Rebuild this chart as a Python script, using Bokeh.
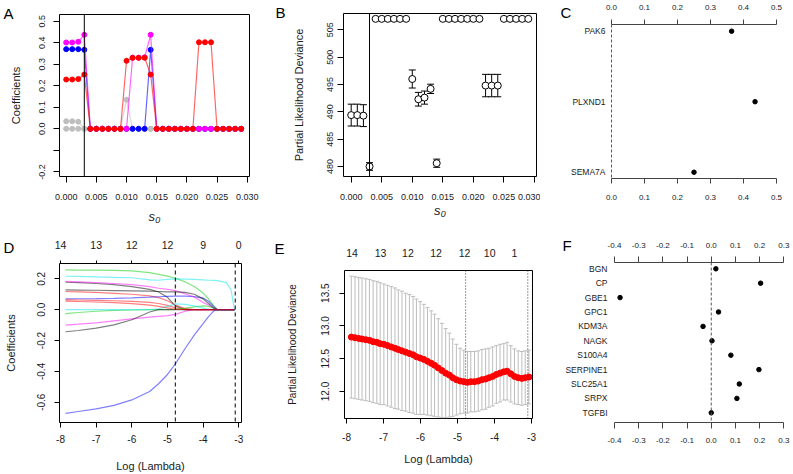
from bokeh.plotting import figure
from bokeh.models import Range1d, LinearAxis, FixedTicker, NumeralTickFormatter, Span, Label
from bokeh.layouts import row, column
from bokeh.embed import file_html
from bokeh.resources import INLINE

# ---------------- data ----------------
# Panel A / B : s0 grid
s0 = [0.000, 0.001, 0.002, 0.003, 0.004, 0.005, 0.006, 0.007, 0.008, 0.009,
      0.010, 0.011, 0.012, 0.013, 0.014, 0.015, 0.016, 0.017, 0.018, 0.019,
      0.020, 0.021, 0.022, 0.023, 0.024, 0.025, 0.026, 0.027, 0.028, 0.029]
s0_selected = 0.003
s0_ticks = [0.000, 0.005, 0.010, 0.015, 0.020, 0.025, 0.030]

coef_gray1 = [0.035, 0.035, 0.033, 0.0, 0.0, 0.0, 0.0, 0.0, 0.0, 0.0,
              0.135, 0.0, 0.0, 0.0, 0.0, 0.0, 0.0, 0.0, 0.0, 0.0,
              0.0, 0.0, 0.0, 0.0, 0.0, 0.0, 0.0, 0.0, 0.0, 0.0]
coef_gray2 = [0.0, 0.0, 0.0, 0.0, 0.0, 0.0, 0.0, 0.0, 0.0, 0.0,
              0.0, 0.0, 0.0, 0.0, 0.0, 0.0, 0.0, 0.0, 0.0, 0.0,
              0.0, 0.0, 0.0, 0.0, 0.0, 0.0, 0.0, 0.0, 0.0, 0.0]
coef_blue = [0.370, 0.370, 0.370, 0.367, 0.0, 0.0, 0.0, 0.0, 0.0, 0.0,
             0.0, 0.0, 0.0, 0.0, 0.367, 0.0, 0.0, 0.0, 0.0, 0.0,
             0.0, 0.0, 0.0, 0.0, 0.0, 0.0, 0.0, 0.0, 0.0, 0.0]
coef_magenta = [0.401, 0.401, 0.404, 0.437, 0.0, 0.0, 0.0, 0.0, 0.0, 0.0,
                0.0, 0.330, 0.330, 0.332, 0.437, 0.0, 0.0, 0.0, 0.0, 0.0,
                0.0, 0.0, 0.0, 0.0, 0.0, 0.0, 0.0, 0.0, 0.0, 0.0]
coef_red = [0.229, 0.229, 0.231, 0.252, 0.0, 0.0, 0.0, 0.0, 0.0, 0.0,
            0.316, 0.330, 0.330, 0.330, 0.252, 0.0, 0.0, 0.0, 0.0, 0.0,
            0.0, 0.0, 0.402, 0.402, 0.402, 0.0, 0.0, 0.0, 0.0, 0.0]
coef_y_ticks = [-0.2, -0.1, 0.0, 0.1, 0.2, 0.3, 0.4, 0.5]

pld_mean = [489.4, 489.4, 489.3, 480.0, 507.0, 507.0, 507.0, 507.0, 507.0, 507.0,
            496.0, 492.3, 492.6, 494.2, 480.6, 507.0, 507.0, 507.0, 507.0, 507.0,
            507.0, 507.0, 494.8, 494.8, 494.8, 507.0, 507.0, 507.0, 507.0, 507.0]
pld_se = [2.0, 2.0, 2.0, 0.7, 0.0, 0.0, 0.0, 0.0, 0.0, 0.0,
          1.65, 1.25, 1.2, 0.85, 0.75, 0.0, 0.0, 0.0, 0.0, 0.0,
          0.0, 0.0, 2.05, 2.05, 2.05, 0.0, 0.0, 0.0, 0.0, 0.0]
pld_y_ticks = [480, 485, 490, 495, 500, 505]

# Panel C
genes_c = ["PAK6", "PLXND1", "SEMA7A"]
coef_c = [0.364, 0.435, 0.250]
ticks_c = [0.0, 0.1, 0.2, 0.3, 0.4, 0.5]

# Panel D : coefficient paths
loglam_path = [-7.86, -7.5, -7.0, -6.5, -6.0, -5.5, -5.25, -5.0, -4.78, -4.5,
               -4.25, -4.0, -3.85, -3.7, -3.6, -3.5, -3.35, -3.22, -3.12]
path_black1 = [0.178, 0.176, 0.170, 0.162, 0.150, 0.132, 0.115, 0.080, 0.025, 0.0,
               0.0, 0.0, 0.0, 0.0, 0.0, 0.0, 0.0, 0.0, 0.0]
path_red1 = [0.118, 0.116, 0.112, 0.106, 0.100, 0.090, 0.078, 0.058, 0.030, 0.008,
             0.0, 0.0, 0.0, 0.0, 0.0, 0.0, 0.0, 0.0, 0.0]
path_green1 = [0.258, 0.257, 0.256, 0.255, 0.252, 0.240, 0.229, 0.218, 0.204, 0.180,
               0.150, 0.108, 0.070, 0.025, 0.0, 0.0, 0.0, 0.0, 0.0]
path_blue1 = [0.070, 0.071, 0.072, 0.074, 0.077, 0.081, 0.084, 0.086, 0.088, 0.088,
              0.085, 0.075, 0.055, 0.020, 0.0, 0.0, 0.0, 0.0, 0.0]
path_cyan1 = [0.217, 0.216, 0.213, 0.210, 0.207, 0.193, 0.191, 0.197, 0.200, 0.198,
              0.196, 0.193, 0.191, 0.190, 0.188, 0.184, 0.176, 0.130, 0.0]
path_magenta1 = [0.183, 0.181, 0.176, 0.170, 0.163, 0.150, 0.139, 0.132, 0.124, 0.103,
                 0.082, 0.046, 0.030, 0.010, 0.0, 0.0, 0.0, 0.0, 0.0]
path_black2 = [0.128, 0.127, 0.126, 0.124, 0.122, 0.120, 0.118, 0.116, 0.115, 0.112,
               0.100, 0.070, 0.040, 0.010, 0.0, 0.0, 0.0, 0.0, 0.0]
path_red2 = [0.064, 0.063, 0.061, 0.058, 0.054, 0.047, 0.040, 0.028, 0.012, 0.0,
             0.0, 0.0, 0.0, 0.0, 0.0, 0.0, 0.0, 0.0, 0.0]
path_green2 = [-0.025, -0.018, -0.010, -0.005, -0.002, 0.0, 0.0, 0.0, 0.002, 0.010,
               0.018, 0.025, 0.022, 0.008, 0.0, 0.0, 0.0, 0.0, 0.0]
path_blue2 = [-0.672, -0.660, -0.643, -0.620, -0.585, -0.530, -0.480, -0.420, -0.352, -0.250,
              -0.165, -0.090, -0.045, -0.008, 0.0, 0.0, 0.0, 0.0, 0.0]
path_cyan2 = [0.0, 0.0, 0.0, 0.0, 0.0, 0.001, 0.006, 0.022, 0.038, 0.035,
              0.025, 0.010, 0.003, 0.0, 0.0, 0.0, 0.0, 0.0, 0.0]
path_magenta2 = [-0.100, -0.094, -0.085, -0.072, -0.060, -0.048, -0.043, -0.038, -0.030, -0.010,
                 0.0, 0.0, 0.0, 0.0, 0.0, 0.0, 0.0, 0.0, 0.0]
path_black3 = [-0.143, -0.135, -0.120, -0.098, -0.065, -0.015, 0.0, 0.0, 0.0, 0.0,
               0.0, 0.0, 0.0, 0.0, 0.0, 0.0, 0.0, 0.0, 0.0]
path_red3 = [0.055, 0.053, 0.050, 0.046, 0.040, 0.030, 0.022, 0.012, 0.003, 0.0,
             0.0, 0.0, 0.0, 0.0, 0.0, 0.0, 0.0, 0.0, 0.0]
path_ticks = [-8, -7, -6, -5, -4, -3]
path_top_labels = ["14", "13", "12", "12", "9", "0"]
path_y_ticks = [-0.6, -0.4, -0.2, 0.0, 0.2]

# Panel E : cross-validation curve
loglam_cv = [-7.87, -7.77, -7.67, -7.58, -7.48, -7.38, -7.28, -7.18, -7.09, -6.99,
             -6.89, -6.79, -6.69, -6.60, -6.50, -6.40, -6.30, -6.20, -6.11, -6.01,
             -5.91, -5.81, -5.71, -5.62, -5.52, -5.42, -5.32, -5.22, -5.13, -5.03,
             -4.93, -4.83, -4.73, -4.64, -4.54, -4.44, -4.34, -4.24, -4.15, -4.05,
             -3.95, -3.85, -3.75, -3.66, -3.56, -3.46, -3.36, -3.26, -3.17, -3.07]
cv_mean = [12.83, 12.82, 12.81, 12.80, 12.79, 12.78, 12.76, 12.75, 12.73, 12.72,
           12.70, 12.68, 12.66, 12.64, 12.62, 12.60, 12.58, 12.56, 12.53, 12.51,
           12.49, 12.46, 12.43, 12.40, 12.36, 12.32, 12.28, 12.25, 12.21, 12.18,
           12.16, 12.15, 12.14, 12.15, 12.15, 12.16, 12.18, 12.19, 12.21, 12.23,
           12.26, 12.28, 12.30, 12.31, 12.27, 12.23, 12.21, 12.20, 12.21, 12.22]
cv_se = [0.93, 0.93, 0.93, 0.93, 0.93, 0.93, 0.93, 0.93, 0.93, 0.92,
         0.92, 0.92, 0.92, 0.91, 0.91, 0.90, 0.90, 0.89, 0.88, 0.86,
         0.84, 0.82, 0.80, 0.78, 0.75, 0.72, 0.68, 0.64, 0.59, 0.54,
         0.50, 0.48, 0.47, 0.46, 0.46, 0.46, 0.46, 0.46, 0.45, 0.45,
         0.44, 0.44, 0.43, 0.44, 0.43, 0.42, 0.41, 0.41, 0.41, 0.41]
cv_top_pos = [-7.85, -7.08, -6.34, -5.58, -4.81, -4.13, -3.46]
cv_top_labels = ["14", "13", "12", "12", "12", "10", "1"]
cv_y_ticks = [12.0, 12.5, 13.0, 13.5]
loglam_min = -4.78
loglam_1se = -3.10

# Panel F
genes_f = ["BGN", "CP", "GBE1", "GPC1", "KDM3A", "NAGK", "S100A4",
           "SERPINE1", "SLC25A1", "SRPX", "TGFBI"]
coef_f = [0.019, 0.204, -0.377, 0.030, -0.034, 0.003, 0.081,
          0.197, 0.116, 0.106, 0.0]
ticks_f = [-0.4, -0.3, -0.2, -0.1, 0.0, 0.1, 0.2, 0.3]

# ---------------- helpers ----------------
FONT = "Liberation Sans"
TXT = "#1a1a1a"


def base_fig(w, h, xr, yr, mb, outline=True):
    p = figure(width=w, height=h, x_range=Range1d(*xr), y_range=Range1d(*yr),
               output_backend="svg", toolbar_location=None, title=None,
               x_axis_location=None, y_axis_location=None,
               min_border_left=mb[0], min_border_right=mb[1],
               min_border_top=mb[2], min_border_bottom=mb[3])
    p.frame_align = False
    p.grid.visible = False
    p.outline_line_color = "black" if outline else None
    p.outline_line_width = 1
    p.background_fill_color = "white"
    p.border_fill_color = "white"
    return p


def axis(p, side, ticks, fmt=None, overrides=None, tick_out=5, standoff=5, size="9px",
         vertical=False, line_color=None, bounds=None, tick_color="black",
         label=None, label_size="11px", label_standoff=5, italic=False):
    ax = LinearAxis(ticker=FixedTicker(ticks=ticks))
    if fmt is not None:
        ax.formatter = NumeralTickFormatter(format=fmt)
    if overrides:
        ax.major_label_overrides = overrides
    ax.axis_line_color = line_color
    if bounds is not None:
        ax.bounds = bounds
    ax.major_tick_in = 0
    ax.major_tick_out = tick_out
    ax.major_tick_line_color = tick_color if tick_out > 0 else None
    ax.minor_tick_line_color = None
    ax.minor_tick_in = 0
    ax.minor_tick_out = 0
    ax.major_label_standoff = standoff
    ax.major_label_text_font = FONT
    ax.major_label_text_font_size = size
    ax.major_label_text_color = TXT
    if vertical:
        ax.major_label_orientation = "vertical"
    if label is not None:
        ax.axis_label = label
        ax.axis_label_text_font = FONT
        ax.axis_label_text_font_size = label_size
        ax.axis_label_text_font_style = "italic" if italic else "normal"
        ax.axis_label_text_color = TXT
        ax.axis_label_standoff = label_standoff
    p.add_layout(ax, side)
    return ax


def letter(p, txt, side, x, y):
    p.add_layout(Label(x=x, y=y, x_units="screen", y_units="screen", text=txt,
                       text_font=FONT, text_font_size="15px", text_color="black",
                       text_baseline="middle", text_align="left"), side)


# ---------------- Panel A ----------------
pa = base_fig(270, 230, (-0.00111, 0.03038), (-0.2215, 0.531), (59, 21, 14, 54))
axis(pa, "below", s0_ticks, fmt="0.000", tick_out=6, standoff=11, size="9px",
     label="s\u2080", label_size="13px", label_standoff=6, italic=True)
axis(pa, "left", coef_y_ticks, fmt="0.0", overrides={-0.1: ""}, tick_out=6, standoff=8,
     size="9px", vertical=True, label="Coefficients", label_size="11px", label_standoff=15)
for vals, col in [(coef_gray1, "#bebebe"), (coef_gray2, "#bebebe"), (coef_blue, "#0000ff"),
                  (coef_magenta, "#ff00ff"), (coef_red, "#ff0000")]:
    pa.line(s0, vals, line_color=col, line_alpha=0.6, line_width=1.2)
    pa.scatter(s0, vals, marker="circle", size=5, fill_color=col, line_color=col)
pa.add_layout(Span(location=s0_selected, dimension="height", line_color="black", line_width=1))
letter(pa, "A", "right", -246, 163)

# ---------------- Panel B ----------------
pb = base_fig(270, 230, (-0.00126, 0.03034), (478.17, 507.98), (73, 4, 13, 54))
axis(pb, "below", s0_ticks, fmt="0.000", tick_out=6, standoff=11, size="9px",
     label="s\u2080", label_size="13px", label_standoff=0, italic=True)
axis(pb, "left", pld_y_ticks, fmt="0", tick_out=6, standoff=4, size="9px", vertical=True,
     label="Partial Likelihood Deviance", label_size="11px", label_standoff=20)
bx = [x for x, s in zip(s0, pld_se) if s > 0]
blo = [m - s for m, s in zip(pld_mean, pld_se) if s > 0]
bhi = [m + s for m, s in zip(pld_mean, pld_se) if s > 0]
pb.segment(bx, blo, bx, bhi, line_color="black", line_width=1)
pb.scatter(bx, blo, marker="dash", size=7, line_color="black", line_width=1)
pb.scatter(bx, bhi, marker="dash", size=7, line_color="black", line_width=1)
pb.scatter(s0, pld_mean, marker="circle", size=7, fill_color="white", line_color="black",
           line_width=1)
pb.add_layout(Span(location=s0_selected, dimension="height", line_color="black", line_width=1))
letter(pb, "B", "left", -4, 164)

# ---------------- Panel C ----------------
pos_c = [i + 1 for i in range(len(genes_c))]
pc = base_fig(253, 230, (-0.0121, 0.5212), (3.089, 0.905), (67, 10, 24, 52), outline=False)
axis(pc, "above", ticks_c, fmt="0.0", tick_out=5, standoff=10, size="8px",
     line_color="#444444", bounds=(0.0, 0.5), tick_color="#444444")
axis(pc, "below", ticks_c, fmt="0.0", tick_out=5, standoff=11, size="8px",
     line_color="#444444", bounds=(0.0, 0.5), tick_color="#444444")
axis(pc, "left", pos_c, overrides={p: g for p, g in zip(pos_c, genes_c)}, tick_out=0,
     standoff=2, size="8.5px")
pc.add_layout(Span(location=0, dimension="height", line_color="#555555", line_width=1,
                   line_dash="3 2"))
pc.scatter(coef_c, pos_c, marker="circle", size=4.5, color="black")
letter(pc, "C", "left", 3, 166)

# ---------------- Panel D ----------------
pdd = base_fig(270, 244, (-8.028, -2.924), (-0.7313, 0.2995), (59, 29, 33, 52))
axis(pdd, "below", path_ticks, fmt="0", tick_out=5, standoff=7, size="10px",
     label="Log (Lambda)", label_size="11px", label_standoff=14)
axis(pdd, "left", path_y_ticks, fmt="0.0", tick_out=5, standoff=9, size="10px",
     vertical=True, label="Coefficients", label_size="11px", label_standoff=18)
axis(pdd, "above", path_ticks, overrides={t: l for t, l in zip(path_ticks, path_top_labels)},
     tick_out=3, standoff=12, size="10.5px")
paths = [(path_black1, "#000000"), (path_red1, "#ff0000"), (path_green1, "#00cd00"),
         (path_blue1, "#0000ff"), (path_cyan1, "#00e5ee"), (path_magenta1, "#ff00ff"),
         (path_black2, "#000000"), (path_red2, "#ff0000"), (path_green2, "#00cd00"),
         (path_blue2, "#0000ff"), (path_cyan2, "#00e5ee"), (path_magenta2, "#ff00ff"),
         (path_black3, "#000000"), (path_red3, "#ff0000")]
for vals, col in paths:
    pdd.line(loglam_path, vals, line_color=col, line_alpha=0.5, line_width=1.2)
for loc in (loglam_min, loglam_1se):
    pdd.add_layout(Span(location=loc, dimension="height", line_color="black", line_width=1,
                        line_dash="4 3"))
letter(pdd, "D", "right", -238, 175)

# ---------------- Panel E ----------------
pe = base_fig(270, 244, (-8.054, -2.973), (11.588, 13.846), (74, 8, 40, 56))
axis(pe, "below", path_ticks, fmt="0", tick_out=5, standoff=9, size="10px",
     label="Log (Lambda)", label_size="11px", label_standoff=9)
axis(pe, "left", cv_y_ticks, fmt="0.0", tick_out=5, standoff=10, size="10px", vertical=True,
     label="Partial Likelihood Deviance", label_size="10px", label_standoff=21)
axis(pe, "above", cv_top_pos, overrides={t: l for t, l in zip(cv_top_pos, cv_top_labels)},
     tick_out=0, standoff=14, size="10.5px")
cv_lo = [m - s for m, s in zip(cv_mean, cv_se)]
cv_hi = [m + s for m, s in zip(cv_mean, cv_se)]
pe.segment(loglam_cv, cv_lo, loglam_cv, cv_hi, line_color="#bdbdbd", line_width=1)
pe.scatter(loglam_cv, cv_lo, marker="dash", size=4, line_color="#bdbdbd", line_width=1)
pe.scatter(loglam_cv, cv_hi, marker="dash", size=4, line_color="#bdbdbd", line_width=1)
for loc in (loglam_min, loglam_1se):
    pe.add_layout(Span(location=loc, dimension="height", line_color="#333333", line_width=1,
                       line_dash="1 2"))
pe.scatter(loglam_cv, cv_mean, marker="circle", size=6, color="#ff0000")
letter(pe, "E", "left", 1, 170)

# ---------------- Panel F ----------------
pos_f = [i + 1 for i in range(len(genes_f))]
pf = base_fig(253, 244, (-0.4207, 0.3069), (11.674, 0.5625), (69, 8, 32, 52), outline=False)
axis(pf, "above", ticks_f, fmt="0.0", tick_out=6, standoff=9, size="8px",
     line_color="#444444", bounds=(-0.4, 0.3), tick_color="#444444")
axis(pf, "below", ticks_f, fmt="0.0", tick_out=6, standoff=9, size="8px",
     line_color="#444444", bounds=(-0.4, 0.3), tick_color="#444444")
axis(pf, "left", pos_f, overrides={p: g for p, g in zip(pos_f, genes_f)}, tick_out=0,
     standoff=2, size="8.5px")
pf.add_layout(Span(location=0, dimension="height", line_color="#555555", line_width=1,
                   line_dash="3 2"))
pf.scatter(coef_f, pos_f, marker="circle", size=4.5, color="black")
letter(pf, "F", "left", 9, 177)

layout = column(row(pa, pb, pc), row(pdd, pe, pf))
open("out.html", "w").write(file_html(layout, INLINE))
